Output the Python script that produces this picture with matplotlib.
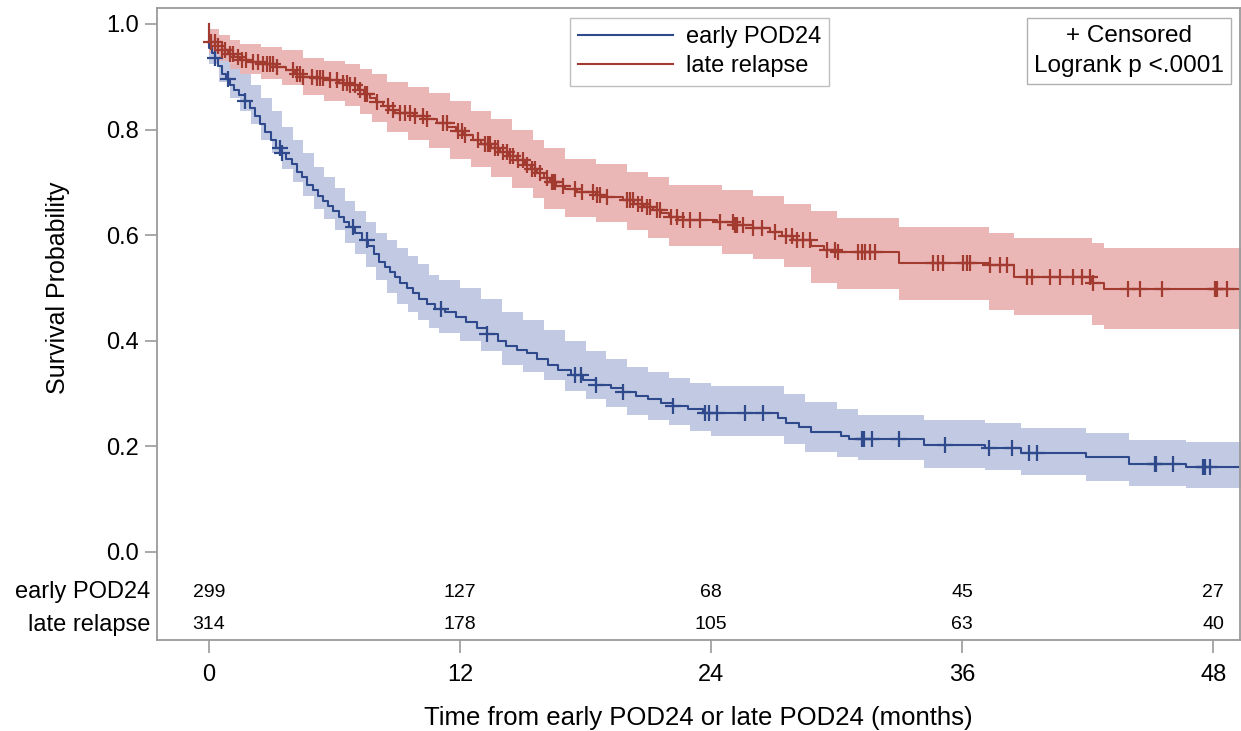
import matplotlib
matplotlib.use("Agg")
import matplotlib.pyplot as plt
import matplotlib.transforms as mtransforms
from matplotlib.lines import Line2D
import numpy as np

plt.rcParams['font.family'] = ['Liberation Sans', 'DejaVu Sans']

# ---- data ----
# early POD24: step times (months) and survival after each step
early_t = [0.0, 0.0, 0.15, 0.3, 0.45, 0.6, 0.8, 1.0, 1.2, 1.45, 1.7, 1.95, 2.2, 2.45, 2.7, 2.95,
           3.2, 3.45, 3.7, 3.95, 4.2, 4.45, 4.7, 4.95, 5.2, 5.45, 5.7, 5.95, 6.2, 6.45, 6.7,
           7.0, 7.3, 7.6, 7.9, 8.15, 8.4, 8.65, 8.9, 9.15, 9.45, 9.75, 10.05, 10.4, 10.8,
           11.3, 11.8, 12.3, 12.8, 13.3, 13.8, 14.2, 14.7, 15.2, 15.7, 16.2, 16.7, 17.3,
           17.9, 18.5, 19.2, 19.8, 20.4, 21.0, 21.6, 22.2, 22.9, 23.6, 27.2, 27.6, 28.2,
           28.8, 30.2, 30.6, 34.2, 37.1, 38.8, 41.9, 44.0, 46.7]
early_s = [1.0, 0.955, 0.945, 0.935, 0.92, 0.905, 0.895, 0.885, 0.875, 0.865, 0.855, 0.84, 0.825,
           0.81, 0.795, 0.78, 0.765, 0.755, 0.745, 0.735, 0.72, 0.71, 0.695, 0.685, 0.675,
           0.665, 0.655, 0.645, 0.635, 0.625, 0.615, 0.605, 0.59, 0.58, 0.565, 0.55, 0.54,
           0.53, 0.52, 0.51, 0.50, 0.49, 0.48, 0.47, 0.46, 0.455, 0.445, 0.435, 0.425, 0.412,
           0.40, 0.39, 0.383, 0.376, 0.365, 0.355, 0.345, 0.335, 0.325, 0.316, 0.31, 0.303,
           0.296, 0.289, 0.283, 0.276, 0.27, 0.263, 0.254, 0.245, 0.236, 0.227, 0.22, 0.214,
           0.203, 0.197, 0.1875, 0.18, 0.167, 0.161]
early_cens = [0.3, 0.9, 1.7, 3.4, 3.5, 6.9, 7.55, 11.1, 13.3, 17.5, 17.8, 18.5, 19.8, 22.2,
              23.7, 23.9, 24.3, 25.6, 26.5, 31.2, 31.3, 31.7, 33.0, 35.2, 37.3, 38.4, 39.2,
              39.6, 45.2, 45.25, 46.1, 47.5, 47.6, 47.85]
early_band_t = [0, 0.5, 1.0, 1.5, 2.0, 2.5, 3.0, 3.5, 4.0, 4.5, 5.0, 5.5, 6.0, 6.5, 7.0, 7.5,
                8.0, 8.5, 9.0, 9.5, 10.0, 10.5, 11.0, 12.0, 13.0, 14.0, 15.0, 16.0, 17.0, 18.0,
                19.0, 20.0, 21.0, 22.0, 23.0, 24.0, 27.5, 28.5, 30.0, 31.0, 34.2, 37.1, 38.8,
                41.9, 44.0, 46.7]
early_lo = [0.925, 0.89, 0.86, 0.835, 0.81, 0.78, 0.755, 0.725, 0.70, 0.675, 0.65, 0.63, 0.61,
            0.585, 0.565, 0.54, 0.515, 0.49, 0.47, 0.455, 0.44, 0.425, 0.415, 0.40, 0.38, 0.355,
            0.34, 0.325, 0.305, 0.29, 0.275, 0.26, 0.25, 0.24, 0.23, 0.22, 0.205, 0.19, 0.18,
            0.175, 0.16, 0.155, 0.145, 0.135, 0.125, 0.121]
early_hi = [0.975, 0.955, 0.925, 0.905, 0.885, 0.86, 0.835, 0.805, 0.78, 0.755, 0.73, 0.71, 0.69,
            0.665, 0.645, 0.625, 0.605, 0.59, 0.575, 0.56, 0.545, 0.525, 0.515, 0.50, 0.48,
            0.455, 0.44, 0.42, 0.40, 0.38, 0.365, 0.35, 0.34, 0.33, 0.32, 0.315, 0.30, 0.285,
            0.27, 0.26, 0.25, 0.245, 0.235, 0.225, 0.212, 0.208]

# late relapse
late_t = [0.0, 0.0, 0.3, 0.6, 0.9, 1.2, 1.5, 2.0, 2.6, 3.2, 3.7, 4.1, 4.5, 5.0, 5.5, 6.2, 6.7,
          7.1, 7.4, 7.7, 8.0, 8.3, 8.6, 8.9, 9.8, 10.4, 10.9, 11.4, 11.8, 12.2, 12.6, 13.0,
          13.5, 13.9, 14.3, 14.7, 15.1, 15.4, 15.7, 16.0, 16.3, 16.6, 17.0, 17.6, 18.5, 19.0,
          19.8, 20.3, 20.8, 21.2, 21.6, 22.0, 22.4, 24.3, 25.1, 26.0, 26.8, 27.4, 27.9, 28.8,
          29.4, 30.0, 33.0, 37.3, 38.5, 42.2, 42.8]
late_s = [1.0, 0.966, 0.958, 0.95, 0.943, 0.937, 0.932, 0.928, 0.924, 0.919, 0.912, 0.905, 0.90,
          0.897, 0.894, 0.889, 0.884, 0.875, 0.867, 0.86, 0.852, 0.845, 0.838, 0.831, 0.826,
          0.82, 0.812, 0.805, 0.797, 0.789, 0.781, 0.773, 0.765, 0.757, 0.75, 0.742, 0.733,
          0.725, 0.717, 0.708, 0.70, 0.693, 0.687, 0.682, 0.676, 0.672, 0.666, 0.66, 0.653,
          0.647, 0.642, 0.635, 0.629, 0.625, 0.619, 0.613, 0.606, 0.598, 0.59, 0.58, 0.572,
          0.568, 0.547, 0.544, 0.521, 0.509, 0.498]
late_cens = [0.1, 0.29, 0.45, 0.61, 0.76, 1.0, 1.16, 1.4, 1.56, 1.79, 2.1, 2.36, 2.6, 2.76,
             2.92, 3.08, 3.24, 4.03, 4.19, 4.35, 4.51, 4.91, 5.15, 5.31, 5.47, 5.78, 6.1, 6.42,
             6.58, 6.74, 6.98, 7.22, 7.46, 7.54, 8.02, 8.57, 8.81, 9.13, 9.37, 9.61, 9.85,
             10.24, 10.4, 11.2, 11.36, 11.9, 12.08, 12.24, 12.87, 13.19, 13.35, 13.43, 13.67,
             13.83, 14.07, 14.23, 14.39, 14.55, 14.78, 15.02, 15.19, 15.43, 15.58, 15.82,
             16.14, 16.38, 16.46, 16.54, 16.93, 17.49, 17.81, 18.37, 18.53, 18.69, 19.01,
             19.97, 20.12, 20.28, 20.52, 20.68, 20.92, 21.08, 21.4, 21.56, 22.1, 22.36, 22.67,
             23.0, 23.47, 24.43, 25.06, 25.14, 25.22, 25.54, 26.01, 26.42, 27.05, 27.6, 27.85,
             28.09, 28.4, 28.73, 29.53, 29.93, 30.08, 31.04, 31.2, 31.36, 31.6, 31.84, 34.62,
             34.86, 35.1, 36.05, 36.21, 36.38, 37.33, 37.81, 38.13, 39.09, 39.33, 40.2, 40.68,
             41.32, 41.72, 42.11, 42.27, 43.94, 44.5, 45.54, 48.09, 48.17, 48.64]
late_band_t = [0, 0.5, 1.0, 1.5, 2.5, 3.5, 4.5, 5.5, 6.5, 7.2, 7.8, 8.5, 9.5, 10.5, 11.5, 12.5,
               13.5, 14.5, 15.5, 16.0, 17.0, 18.5, 20.0, 21.0, 22.0, 24.5, 26.0, 27.5, 28.8,
               30.0, 33.0, 37.3, 38.5, 42.2, 42.8]
late_lo = [0.945, 0.93, 0.915, 0.905, 0.895, 0.885, 0.865, 0.855, 0.845, 0.83, 0.815, 0.795,
           0.78, 0.765, 0.745, 0.73, 0.71, 0.69, 0.67, 0.65, 0.635, 0.625, 0.61, 0.595, 0.58,
           0.565, 0.555, 0.54, 0.51, 0.498, 0.477, 0.458, 0.449, 0.43, 0.422]
late_hi = [0.99, 0.98, 0.97, 0.962, 0.957, 0.95, 0.935, 0.93, 0.925, 0.915, 0.905, 0.89, 0.88,
           0.87, 0.855, 0.835, 0.82, 0.80, 0.78, 0.765, 0.745, 0.735, 0.72, 0.71, 0.695, 0.685,
           0.675, 0.66, 0.645, 0.632, 0.616, 0.604, 0.595, 0.585, 0.576]

groups = ['early POD24', 'late relapse']
risk_times = [0, 12, 24, 36, 48]
risk_early = [299, 127, 68, 45, 27]
risk_late = [314, 178, 105, 63, 40]

# ---- styling ----
blue = '#2f4a8c'
blue_band = '#bcc3df'
red = '#a33a30'
red_band = '#e8b0ae'
grey = '#9a9a9a'
fs = 17

fig = plt.figure(figsize=(12.41, 7.31), dpi=100)
ax = fig.add_axes([157 / 1241, 1 - 640 / 731, (1240 - 157) / 1241, (640 - 8) / 731])

x_end = 49.5


def step_line(t, s):
    return np.append(t, x_end), np.append(s, s[-1])


def at(t, s, c):
    idx = np.searchsorted(t, c, side='right') - 1
    return np.asarray(s)[idx]


for bt, lo, hi, col in [(early_band_t, early_lo, early_hi, blue_band),
                        (late_band_t, late_lo, late_hi, red_band)]:
    bx, blo = step_line(bt, lo)
    _, bhi = step_line(bt, hi)
    ax.fill_between(bx, blo, bhi, step='post', color=col, lw=0, alpha=0.9)

for t, s, cens, col in [(early_t, early_s, early_cens, blue),
                        (late_t, late_s, late_cens, red)]:
    lx, ly = step_line(t, s)
    ax.step(lx, ly, where='post', color=col, lw=1.5)
    cy = at(np.array(t), s, np.array(cens))
    ax.plot(cens, cy, ls='none', marker='+', ms=11, mew=1.6, color=col)

ax.set_xlim((157 - 209) / 20.92, (1240 - 209) / 20.92)
ax.set_ylim((552 - 640) / 528, (552 - 8) / 528)
ax.set_xticks(risk_times)
ax.set_yticks([0, 0.2, 0.4, 0.6, 0.8, 1.0])
ax.set_yticklabels(['0.0', '0.2', '0.4', '0.6', '0.8', '1.0'])
ax.tick_params(axis='both', colors=grey, length=9, width=1.2, labelcolor='black', labelsize=fs)
ax.tick_params(axis='x', pad=8)
ax.tick_params(axis='y', pad=4)
for sp in ax.spines.values():
    sp.set_color(grey)
    sp.set_linewidth(1.3)

# at-risk table inside the axes
trans = mtransforms.blended_transform_factory(ax.transAxes, ax.transData)
row_y = [-0.076, -0.138]
for name, counts, y in zip(groups, [risk_early, risk_late], row_y):
    ax.text(-0.006, y, name, transform=trans, ha='right', va='center', fontsize=fs)
    for tt, n in zip(risk_times, counts):
        ax.text(tt, y, str(n), ha='center', va='center', fontsize=14)

fig.text(58 / 1241, 1 - 288 / 731, 'Survival Probability', rotation=90,
         ha='center', va='center', fontsize=18)
fig.text(698 / 1241, 1 - 718 / 731, 'Time from early POD24 or late POD24 (months)',
         ha='center', va='center', fontsize=18.5)

handles = [Line2D([], [], color=blue, lw=1.5), Line2D([], [], color=red, lw=1.5)]
leg = ax.legend(handles, groups, loc='upper left', bbox_to_anchor=((570 - 157) / 1083, (640 - 18) / 632),
                borderaxespad=0, fontsize=fs, handlelength=4.0, frameon=True, fancybox=False,
                edgecolor='#b0b0b0', labelspacing=0.3, borderpad=0.35, handletextpad=0.55)
leg.get_frame().set_linewidth(1.0)

ax.text((1129 - 157) / 1083, (640 - 51) / 632, '+ Censored\nLogrank p <.0001',
        transform=ax.transAxes, ha='center', va='center', fontsize=17.5, linespacing=1.45,
        bbox=dict(boxstyle='square,pad=0.3', fc='white', ec='#b0b0b0', lw=1.0))

fig.savefig('out.png', dpi=100)
